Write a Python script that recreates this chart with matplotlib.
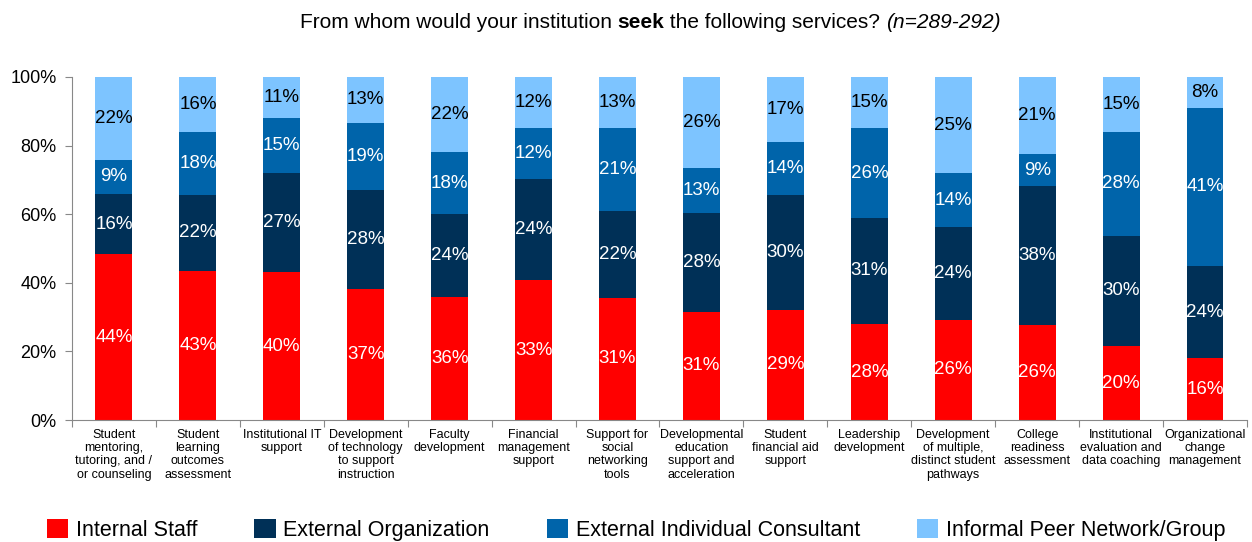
import numpy as np
import matplotlib.pyplot as plt
from matplotlib.patches import Patch

plt.rcParams['font.family'] = ['Liberation Sans', 'DejaVu Sans']

categories = [
    'Student\nmentoring,\ntutoring, and /\nor counseling',
    'Student\nlearning\noutcomes\nassessment',
    'Institutional IT\nsupport',
    'Development\nof technology\nto support\ninstruction',
    'Faculty\ndevelopment',
    'Financial\nmanagement\nsupport',
    'Support for\nsocial\nnetworking\ntools',
    'Developmental\neducation\nsupport and\nacceleration',
    'Student\nfinancial aid\nsupport',
    'Leadership\ndevelopment',
    'Development\nof multiple,\ndistinct student\npathways',
    'College\nreadiness\nassessment',
    'Institutional\nevaluation and\ndata coaching',
    'Organizational\nchange\nmanagement',
]
internal_staff = [44, 43, 40, 37, 36, 33, 31, 31, 29, 28, 26, 26, 20, 16]
external_org = [16, 22, 27, 28, 24, 24, 22, 28, 30, 31, 24, 38, 30, 24]
external_consultant = [9, 18, 15, 19, 18, 12, 21, 13, 14, 26, 14, 9, 28, 41]
peer_network = [22, 16, 11, 13, 22, 12, 13, 26, 17, 15, 25, 21, 15, 8]
series_names = ['Internal Staff', 'External Organization',
                'External Individual Consultant', 'Informal Peer Network/Group']

colors = ['#FF0000', '#003057', '#0064AA', '#7DC4FF']
text_colors = ['white', 'white', 'white', 'black']

series = np.array([internal_staff, external_org, external_consultant, peer_network], dtype=float)
shares = series / series.sum(axis=0) * 100

fig = plt.figure(figsize=(12.52, 5.42), dpi=100)
ax = fig.add_axes([0.0575, 0.225, 0.9385, 0.633])

x = np.arange(len(categories))
bottom = np.zeros(len(categories))
for i in range(4):
    ax.bar(x, shares[i], bottom=bottom, width=0.44, color=colors[i], edgecolor='none')
    for j in range(len(categories)):
        ax.text(x[j], bottom[j] + shares[i][j] / 2, '%d%%' % series[i][j],
                ha='center', va='center', fontsize=13.5, color=text_colors[i])
    bottom += shares[i]

ax.set_xlim(-0.5, len(categories) - 0.5)
ax.set_ylim(0, 100)
ax.set_yticks(range(0, 101, 20))
ax.set_yticklabels(['%d%%' % v for v in range(0, 101, 20)], fontsize=13)
ax.set_xticks(np.arange(len(categories) + 1) - 0.5)
ax.set_xticklabels([])
ax.tick_params(axis='x', length=5, color='#888888', direction='out')
ax.tick_params(axis='y', length=5, color='#888888', direction='out', pad=6)
for j, lab in enumerate(categories):
    ax.text(x[j], -2.5, lab, ha='center', va='top', fontsize=9, linespacing=1.15)
for s in ['top', 'right']:
    ax.spines[s].set_visible(False)
for s in ['left', 'bottom']:
    ax.spines[s].set_color('#888888')

# title with bold / italic parts
pieces = [('From whom would your institution ', 'normal', 'normal'),
          ('seek', 'bold', 'normal'),
          (' the following services? ', 'normal', 'normal'),
          ('(n=289-292)', 'normal', 'italic')]
renderer = fig.canvas.get_renderer()
texts = []
for s, w, st in pieces:
    t = fig.text(0, 0.958, s, fontsize=15, fontweight=w, fontstyle=st, va='center')
    texts.append(t)
widths = [t.get_window_extent(renderer).width for t in texts]
xpos = 650 - sum(widths) / 2
for t, w in zip(texts, widths):
    t.set_x(xpos / fig.bbox.width)
    xpos += w

handles = [Patch(facecolor=c) for c in colors]
fig.legend(handles, series_names, loc='center', bbox_to_anchor=(0.508, 0.022), ncol=4,
           frameon=False, fontsize=15.5, handlelength=1.0, handleheight=1.0,
           handletextpad=0.35, columnspacing=2.65)

fig.savefig('out.png', dpi=100)
